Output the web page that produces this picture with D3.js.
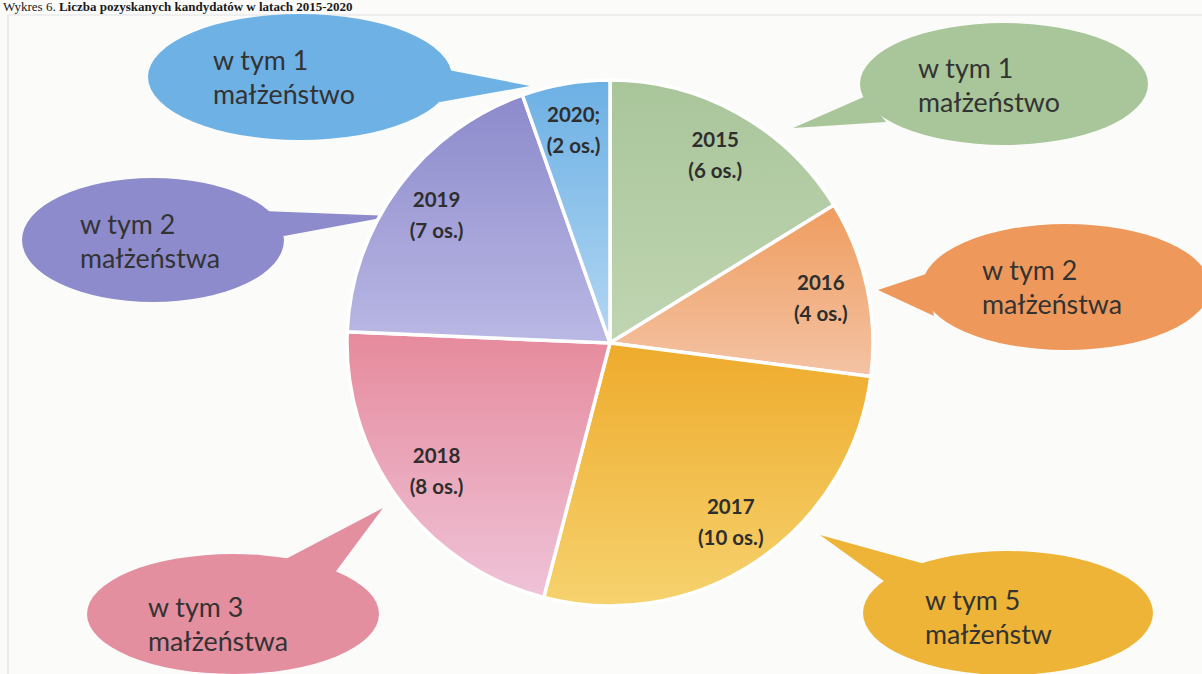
<!DOCTYPE html>
<html><head><meta charset="utf-8">
<script src="https://cdn.jsdelivr.net/npm/d3@7"></script>
<style>body{margin:0;background:#fbfbfa;} svg{display:block}</style>
</head><body><svg id="c" width="1202" height="674"></svg>
<script>
// ---- data ----
const years = ["2015","2016","2017","2018","2019","2020"];
const yearLabels = ["2015","2016","2017","2018","2019","2020;"];
const persons = [6,4,10,8,7,2];
const marriages = [1,2,5,3,2,1];
const marriageWords = ["małżeństwo","małżeństwa","małżeństw","małżeństwa","małżeństwa","małżeństwo"];
const titleNormal = "Wykres 6. ";
const titleBold = "Liczba pozyskanych kandydatów w latach 2015-2020";

// ---- styles / layout ----
const sliceTop = ["#a9c59a","#ef9d5f","#eeab2c","#e68a9c","#8c8acb","#6cb0e4"];
const sliceBottom = ["#c0d5b2","#f4c3a4","#f6d26e","#efc3d8","#bab8e4","#b3d7f2"];
const bubbleFill = ["#a8c699","#ee995b","#edb437","#e48fa0","#8d8bcc","#6eb1e4"];
const pieLayout = {cx:610, cy:343, r:263, labelR:0.82};
const bubbleLayout = [
 {cx:1004, cy:84,  rx:144, ry:61, tail:[[866,96],[793,128],[886,122]], tx:918, ty:78},
 {cx:1066, cy:287, rx:144, ry:63, tail:[[926,274],[878,290],[934,316]], tx:982, ty:280},
 {cx:1008, cy:613, rx:145, ry:62, tail:[[932,566],[820,535],[888,584]], tx:925, ty:610},
 {cx:233,  cy:614, rx:146, ry:60, tail:[[280,562],[383,508],[334,574]], tx:148, ty:617},
 {cx:153,  cy:240, rx:131, ry:62, tail:[[262,211],[392,216],[284,236]], tx:80,  ty:234},
 {cx:300,  cy:77,  rx:152, ry:63, tail:[[438,68],[530,86],[440,102]], tx:213, ty:70}
];

const svg = d3.select("#c");
const defs = svg.append("defs");
years.forEach((y,i)=>{
  const g = defs.append("linearGradient").attr("id","g"+i)
    .attr("x1",0).attr("y1",0).attr("x2",0).attr("y2",1);
  g.append("stop").attr("offset","0%").attr("stop-color",sliceTop[i]);
  g.append("stop").attr("offset","100%").attr("stop-color",sliceBottom[i]);
});

// frame
svg.append("path").attr("d","M8,674 V15 H1202").attr("fill","none")
  .attr("stroke","#e2e2e2").attr("stroke-width",1.2);

// title
const t = svg.append("text").attr("x",3).attr("y",11)
  .attr("font-family","'Liberation Serif', 'Times New Roman', serif")
  .attr("font-size",13).attr("fill","#1a1a1a");
t.append("tspan").text(titleNormal);
t.append("tspan").attr("font-weight","bold").text(titleBold);

// bubbles
const bub = svg.append("g");
bubbleLayout.forEach((b,i)=>{
  const g = bub.append("g");
  g.append("ellipse").attr("cx",b.cx).attr("cy",b.cy).attr("rx",b.rx).attr("ry",b.ry)
    .attr("fill",bubbleFill[i]);
  g.append("path").attr("d","M"+b.tail.map(p=>p.join(",")).join("L")+"Z")
    .attr("fill",bubbleFill[i]);
});

// pie
const pie = d3.pie().sort(null).value(d=>d).startAngle(0).endAngle(2*Math.PI);
const arcs = pie(persons);
const arc = d3.arc().innerRadius(0).outerRadius(pieLayout.r);
const labelArc = d3.arc().innerRadius(pieLayout.r*pieLayout.labelR).outerRadius(pieLayout.r*pieLayout.labelR);
const pg = svg.append("g").attr("transform",`translate(${pieLayout.cx},${pieLayout.cy})`);
pg.selectAll("path.slice").data(arcs).join("path").attr("class","slice")
  .attr("d",arc).attr("fill",(d,i)=>`url(#g${i})`)
  .attr("stroke","#ffffff").attr("stroke-width",3.5).attr("stroke-linejoin","miter");

const lab = pg.selectAll("text.lab").data(arcs).join("text").attr("class","lab")
  .attr("transform",d=>`translate(${labelArc.centroid(d)})`)
  .attr("text-anchor","middle")
  .attr("font-family","Lato, 'Open Sans', sans-serif").attr("font-weight","bold")
  .attr("font-size",20.5).attr("fill","#2e2e2e");
lab.append("tspan").attr("x",0).attr("y",-8).text((d,i)=>yearLabels[i]);
lab.append("tspan").attr("x",0).attr("y",23).text((d,i)=>`(${persons[i]} os.)`);

// bubble texts
bubbleLayout.forEach((b,i)=>{
  const tx = svg.append("text").attr("font-family","Lato, 'Open Sans', sans-serif")
    .attr("font-size",26.8).attr("fill","#333333");
  tx.append("tspan").attr("x",b.tx).attr("y",b.ty).text(`w tym ${marriages[i]}`);
  tx.append("tspan").attr("x",b.tx).attr("y",b.ty+34).text(marriageWords[i]);
});
</script></body></html>
